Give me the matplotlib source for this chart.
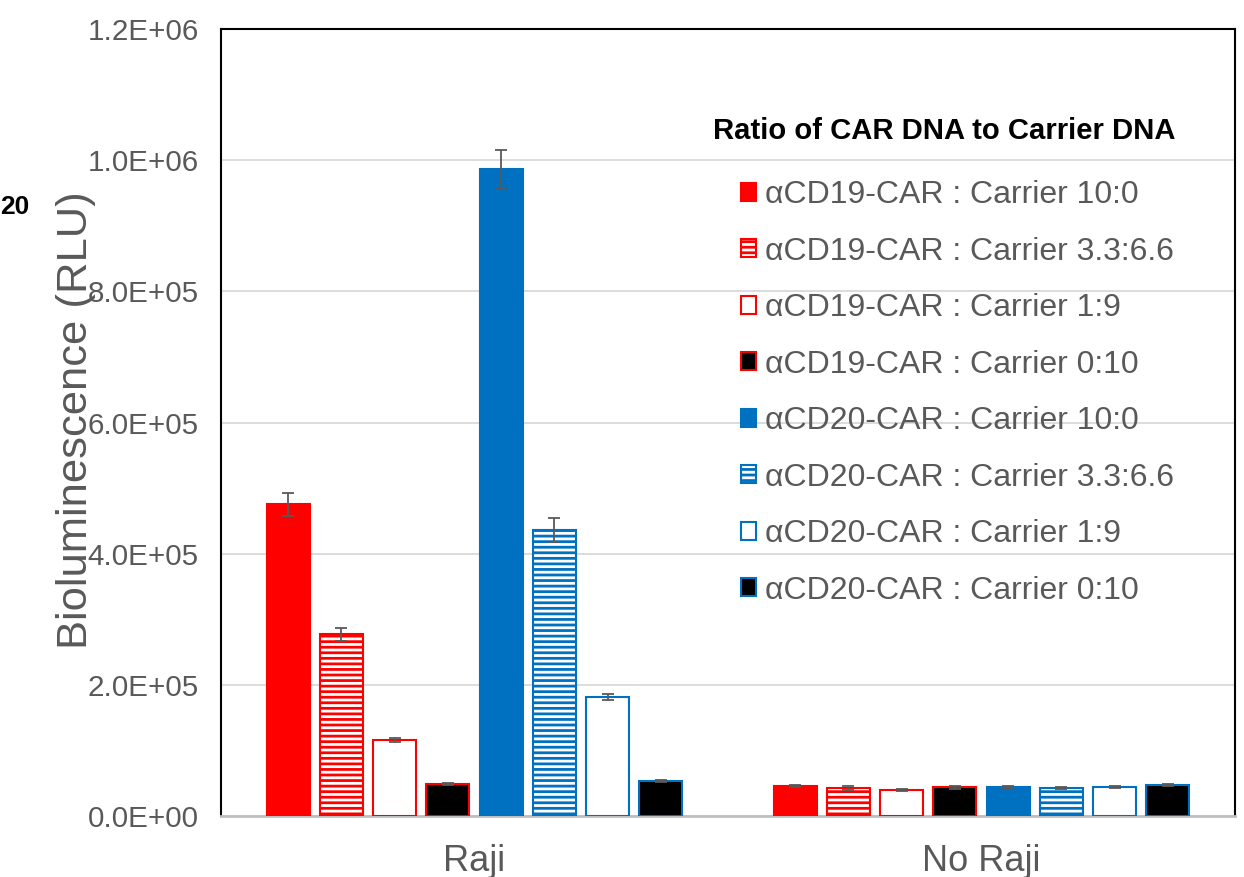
import matplotlib
matplotlib.use("Agg")
import matplotlib.pyplot as plt
from matplotlib.patches import Patch
import numpy as np

plt.rcParams['font.family'] = ['Liberation Sans', 'DejaVu Sans']
plt.rcParams['hatch.linewidth'] = 2.0

# ---------------- data ----------------
groups = ["Raji", "No Raji"]
series = ["αCD19-CAR : Carrier 10:0", "αCD19-CAR : Carrier 3.3:6.6",
          "αCD19-CAR : Carrier 1:9", "αCD19-CAR : Carrier 0:10",
          "αCD20-CAR : Carrier 10:0", "αCD20-CAR : Carrier 3.3:6.6",
          "αCD20-CAR : Carrier 1:9", "αCD20-CAR : Carrier 0:10"]
raji_vals = [475000, 277000, 116000, 49000, 986000, 436000, 182000, 53000]
raji_err = [18000, 10000, 3000, 2000, 30000, 18000, 4500, 1500]
noraji_vals = [45500, 43000, 39500, 43500, 43500, 43000, 44500, 47000]
noraji_err = [1500, 3000, 1500, 2000, 1500, 1500, 1500, 1500]
ytick_vals = [0, 200000, 400000, 600000, 800000, 1000000, 1200000]
ytick_labels = ["0.0E+00", "2.0E+05", "4.0E+05", "6.0E+05", "8.0E+05", "1.0E+06", "1.2E+06"]
legend_title = "Ratio of CAR DNA to Carrier DNA"
ylabel = "Bioluminescence (RLU)"

# ---------------- styles ----------------
RED = "#FF0000"
BLUE = "#0070C0"
edge_cols = [RED] * 4 + [BLUE] * 4
face_cols = [RED, "white", "white", "black", BLUE, "white", "white", "black"]
hatches = [None, "---", None, None, None, "---", None, None]
GRAY = "#595959"

fig = plt.figure(figsize=(12.44, 8.77), dpi=100)
ax = fig.add_axes([221/1244, 1 - 816/877, (1235-221)/1244, (816-29)/877])

vals = np.array([raji_vals, noraji_vals])
errs = np.array([raji_err, noraji_err])
x = np.arange(len(groups))
step = 0.105
width = 0.085
for i in range(len(series)):
    pos = x + (i - 3.5) * step
    ax.bar(pos, vals[:, i], width=width, color=face_cols[i], edgecolor=edge_cols[i],
           hatch=hatches[i], linewidth=1.5, zorder=3)
    ax.errorbar(pos, vals[:, i], yerr=errs[:, i], fmt='none', ecolor=GRAY,
                elinewidth=1.3, capsize=4.5, capthick=1.3, zorder=4)

ax.set_xlim(-0.5, 1.5)
ax.set_ylim(0, 1200000)
ax.set_yticks(ytick_vals)
ax.set_yticklabels(ytick_labels, fontsize=21.3, color=GRAY)
ax.set_xticks(x)
ax.set_xticklabels(groups, fontsize=26, color=GRAY)
ax.tick_params(axis='y', length=0, pad=16)
ax.tick_params(axis='x', length=0, pad=20)
ax.grid(axis='y', color="#D9D9D9", linewidth=1.3, zorder=0)
ax.set_axisbelow(True)
for s in ["left", "top", "right"]:
    ax.spines[s].set_color("black")
    ax.spines[s].set_linewidth(1.5)
ax.spines["bottom"].set_color("#BFBFBF")
ax.spines["bottom"].set_linewidth(2)

ax.set_ylabel(ylabel, fontsize=31.3, color=GRAY)
ax.yaxis.set_label_coords((96 - 221) / 1014, (816 - 420) / 787)

handles = [Patch(facecolor=face_cols[i], edgecolor=edge_cols[i], hatch=hatches[i], linewidth=1.5)
           for i in range(len(series))]
leg = ax.legend(handles, series, loc='upper left', bbox_to_anchor=(741/1244, 1 - 180/877),
                bbox_transform=fig.transFigure, frameon=False, fontsize=23, labelcolor=GRAY,
                handlelength=0.48, handleheight=0.48, handletextpad=0.28, labelspacing=0.83,
                borderpad=0, borderaxespad=0)
fig.text(944/1244, 1 - 131/877, legend_title, fontsize=21.1, fontweight='bold',
         ha='center', va='center', color='black')

fig.text(29/1244, 1 - 207/877, "20", fontsize=19, fontweight='bold', ha='right', va='center',
         color='black')

fig.savefig("out.png", dpi=100)
